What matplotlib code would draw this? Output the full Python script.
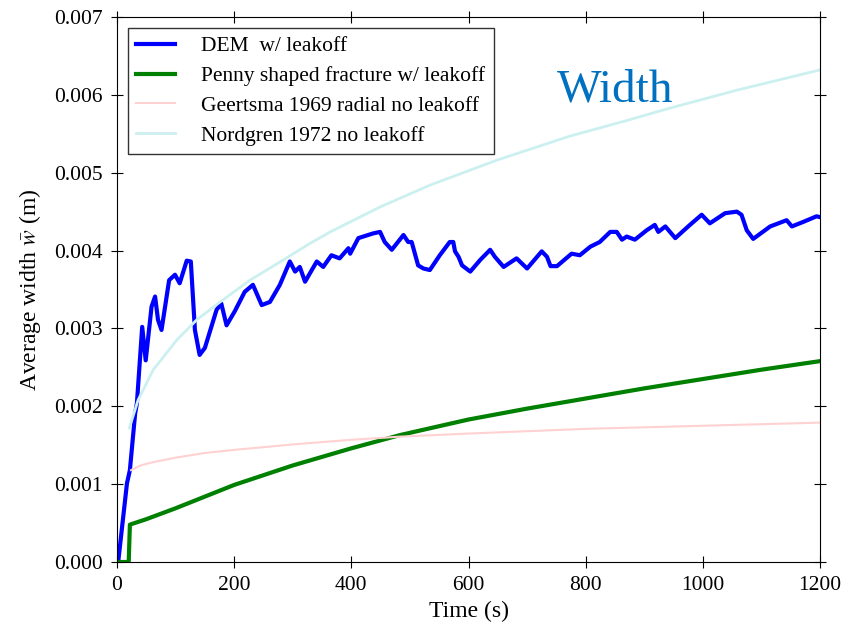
import numpy as np
import matplotlib
matplotlib.use("Agg")
import matplotlib.pyplot as plt

plt.rcParams['font.family'] = ['Liberation Serif', 'DejaVu Serif']
plt.rcParams['mathtext.fontset'] = 'stix'

# DEM w/ leakoff
t_dem = [0, 2, 17, 22, 31, 34, 43, 49, 59, 65, 70, 76, 89, 99, 107, 119, 126,
         133, 141, 150, 170, 178, 187, 201, 218, 232, 247, 261, 278, 295, 304,
         312, 321, 341, 352, 366, 380, 395, 398, 412, 437, 449, 457, 469, 489,
         497, 503, 514, 523, 534, 551, 568, 574, 577, 583, 589, 603, 620, 637,
         645, 660, 682, 700, 725, 734, 740, 751, 776, 790, 808, 824, 842, 853,
         862, 870, 884, 904, 918, 924, 936, 953, 978, 998, 1012, 1038, 1058,
         1066, 1075, 1086, 1115, 1143, 1152, 1172, 1194, 1200]
w_dem = [0, 0, 0.00101, 0.00118, 0.00191, 0.00204, 0.00302, 0.00259, 0.00328,
         0.00341, 0.00311, 0.00298, 0.00362, 0.00369, 0.00358, 0.00387,
         0.00386, 0.00298, 0.00266, 0.00275, 0.00324, 0.00332, 0.00304,
         0.00322, 0.00347, 0.00356, 0.00330, 0.00334, 0.00356, 0.00386,
         0.00373, 0.00379, 0.00360, 0.00386, 0.00379, 0.00394, 0.00390,
         0.00403, 0.00396, 0.00416, 0.00422, 0.00424, 0.00411, 0.00401,
         0.00420, 0.00411, 0.00411, 0.00381, 0.00377, 0.00375, 0.00394,
         0.00411, 0.00411, 0.00399, 0.00392, 0.00381, 0.00373, 0.00388,
         0.00401, 0.00392, 0.00379, 0.00390, 0.00377, 0.00399, 0.00392,
         0.00380, 0.00380, 0.00396, 0.00394, 0.00405, 0.00411, 0.00424,
         0.00424, 0.00414, 0.00418, 0.00414, 0.00426, 0.00433, 0.00424,
         0.00431, 0.00416, 0.00433, 0.00446, 0.00435, 0.00448, 0.00450,
         0.00446, 0.00426, 0.00415, 0.00431, 0.00439, 0.00431, 0.00437,
         0.00444, 0.00443]

# Penny shaped fracture w/ leakoff
t_penny = [0, 20, 22, 50, 100, 150, 200, 300, 400, 483, 600, 700, 800, 900,
           1000, 1100, 1200]
w_penny = [0, 0, 0.00048, 0.00055, 0.00069, 0.00084, 0.00099, 0.00124,
           0.00146, 0.00163, 0.00183, 0.00197, 0.00210, 0.00223, 0.00235,
           0.00247, 0.00258]

# Geertsma 1969 radial no leakoff
t_geer = [24, 40, 60, 100, 150, 200, 300, 400, 483, 600, 800, 1000, 1200]
w_geer = [0.00118, 0.00124, 0.00128, 0.00134, 0.00140, 0.00144, 0.00151,
          0.00157, 0.00161, 0.00165, 0.00171, 0.00175, 0.00179]

# Nordgren 1972 no leakoff
t_nord = [21, 36, 62, 102, 136, 176, 227, 284, 329, 364, 449, 534, 648, 773,
          870, 944, 1058, 1200]
w_nord = [0.00172, 0.00208, 0.00247, 0.00285, 0.00311, 0.00334, 0.00362,
          0.00388, 0.00409, 0.00424, 0.00456, 0.00484, 0.00516, 0.00547,
          0.00567, 0.00583, 0.00606, 0.00632]

fig = plt.figure(figsize=(8.55, 6.28), dpi=100)
ax = fig.add_axes([117/855, 1-562/628, 703/855, 545/628])

ax.plot(t_dem, w_dem, color='blue', lw=3, label='DEM  w/ leakoff')
ax.plot(t_penny, w_penny, color='green', lw=3,
        label='Penny shaped fracture w/ leakoff')
ax.plot(t_geer, w_geer, color=(1.0, 0.82, 0.82), lw=1.5,
        label='Geertsma 1969 radial no leakoff')
ax.plot(t_nord, w_nord, color=(0.80, 0.94, 0.94), lw=2,
        label='Nordgren 1972 no leakoff')

ax.set_xlim(0, 1200)
ax.set_ylim(0, 0.007)
ax.set_xticks(np.arange(0, 1201, 200))
ax.set_yticks(np.arange(0, 0.0071, 0.001))
ax.yaxis.set_major_formatter(matplotlib.ticker.FormatStrFormatter('%.3f'))
ax.tick_params(direction='inout', length=8, labelsize=15.5, top=True,
               right=True, pad=6)
ax.set_xlabel('Time (s)', fontsize=17, labelpad=4)
ax.set_ylabel(r'Average width $\bar{w}$ (m)', fontsize=17, labelpad=8)

leg = ax.legend(loc='upper left', fontsize=15.5, frameon=True, fancybox=False,
                edgecolor='black', handlelength=1.8, handletextpad=1.2,
                borderaxespad=0.5, labelspacing=0.45)
leg.get_frame().set_linewidth(1.0)

ax.text(0.626, 0.845, 'Width', transform=ax.transAxes, fontsize=34,
        color='#0070C0')

fig.savefig('out.png', dpi=100)
